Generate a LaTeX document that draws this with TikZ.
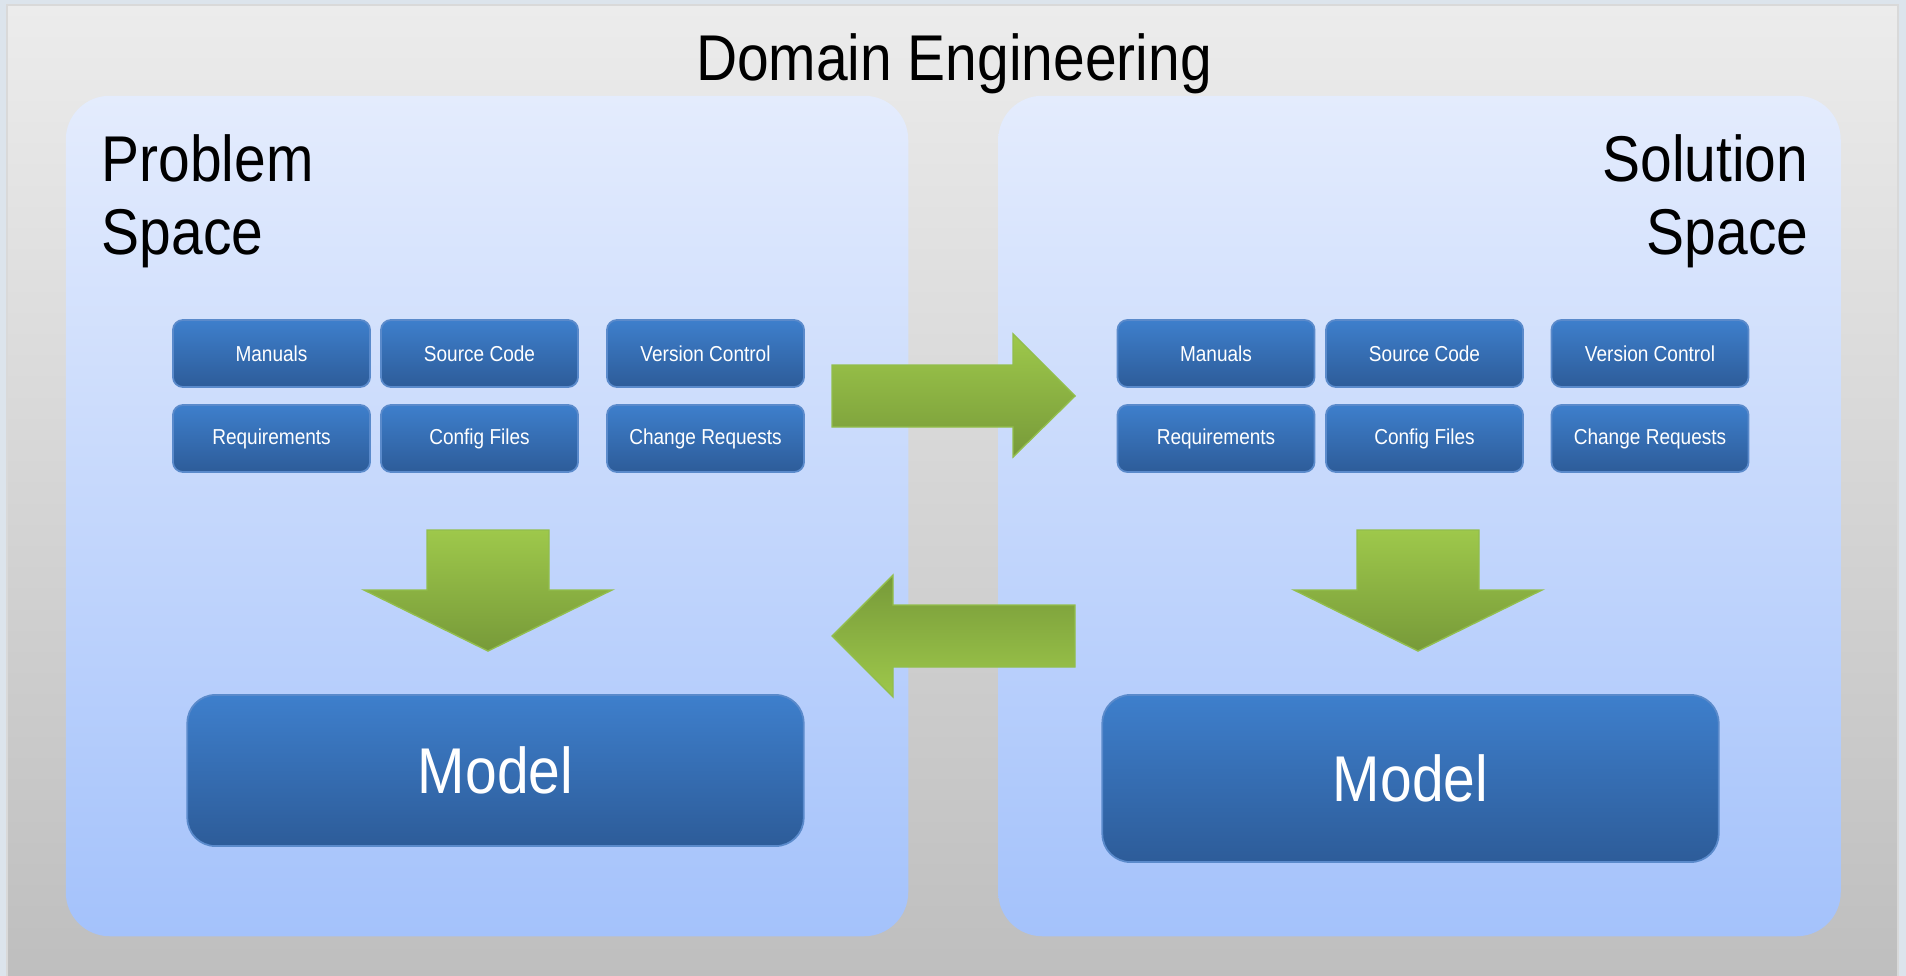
\documentclass[tikz,border=0pt]{standalone}
\usepackage{fontspec}
\setmainfont{Liberation Sans}[FakeStretch=0.88]

\definecolor{backdrop}{HTML}{DCE4EC}
\definecolor{frametop}{HTML}{ECECEC}
\definecolor{framebot}{HTML}{BEBEBE}
\definecolor{spacetop}{HTML}{E4ECFD}
\definecolor{spacebot}{HTML}{A4C2FB}
\definecolor{itemtop}{HTML}{3E7FCC}
\definecolor{itembot}{HTML}{2D5C99}
\definecolor{itemedge}{HTML}{5A8ACB}
\definecolor{greenlight}{HTML}{9EC84B}
\definecolor{greendark}{HTML}{779A39}
\definecolor{greenedge}{HTML}{92BE4C}

\tikzset{
  space/.style={rounded corners=0.44cm, top color=spacetop, bottom color=spacebot,
    minimum width=8.42cm, minimum height=8.4cm},
  item/.style={rounded corners=0.1cm, top color=itemtop, bottom color=itembot,
    draw=itemedge, line width=0.5pt, text=white, minimum width=1.97cm,
    minimum height=0.67cm, font=\fontsize{6.15}{7}\selectfont},
  model/.style={item, rounded corners=0.28cm, minimum width=6.16cm,
    font=\fontsize{18.4}{20}\selectfont},
  heading/.style={inner sep=0pt, font=\fontsize{18.4}{20.8}\selectfont}
}

\begin{document}
\begin{tikzpicture}[x=0.01cm,y=-0.01cm]
	\useasboundingbox (0,0) rectangle (1906,976);
	\fill[backdrop] (0,0) rectangle (1906,976);
	\shade[top color=frametop, bottom color=framebot, draw=black!15] (7,5) rectangle (1898,980);
	\node[heading] (title) at (954,64) {Domain Engineering};

	% the two spaces
	\node[space] (problem) at (487,516) {};
	\node[space] (solution) at (1419.5,516) {};
	\node[heading, anchor=north west, align=left] (ptitle) at (101,134) {Problem\\Space};
	\node[heading, anchor=north east, align=right] (stitle) at (1809,134) {Solution\\Space};

	% artefacts, problem side
	\node[item] (pman) at (271.5,353.5) {Manuals};
	\node[item] (psrc) at (479.5,353.5) {Source Code};
	\node[item] (pver) at (705.5,353.5) {Version Control};
	\node[item] (preq) at (271.5,438.5) {Requirements};
	\node[item] (pcfg) at (479.5,438.5) {Config Files};
	\node[item] (pchg) at (705.5,438.5) {Change Requests};

	% artefacts, solution side
	\node[item] (sman) at (1216,353.5) {Manuals};
	\node[item] (ssrc) at (1424.5,353.5) {Source Code};
	\node[item] (sver) at (1650,353.5) {Version Control};
	\node[item] (sreq) at (1216,438.5) {Requirements};
	\node[item] (scfg) at (1424.5,438.5) {Config Files};
	\node[item] (schg) at (1650,438.5) {Change Requests};

	\node[model, minimum height=1.51cm] (pmodel) at (495.5,770.5) {Model};
	\node[model, minimum height=1.67cm] (smodel) at (1410.5,778.5) {Model};

	% block arrows
	\shade[top color=greenlight, bottom color=greendark, draw=greenedge]
		(832,365) -- (1013,365) -- (1013,334) -- (1075,396) -- (1013,457) -- (1013,427) -- (832,427) -- cycle;
	\shade[top color=greendark, bottom color=greenlight, draw=greenedge]
		(1075,605) -- (893,605) -- (893,575) -- (832,636) -- (893,697) -- (893,667) -- (1075,667) -- cycle;
	\shade[top color=greenlight, bottom color=greendark, draw=greenedge]
		(427,530) -- (549,530) -- (549,590) -- (612,590) -- (488,651) -- (364,590) -- (427,590) -- cycle;
	\shade[top color=greenlight, bottom color=greendark, draw=greenedge]
		(1357,530) -- (1479,530) -- (1479,590) -- (1542,590) -- (1418,651) -- (1294,590) -- (1357,590) -- cycle;
\end{tikzpicture}
\end{document}
